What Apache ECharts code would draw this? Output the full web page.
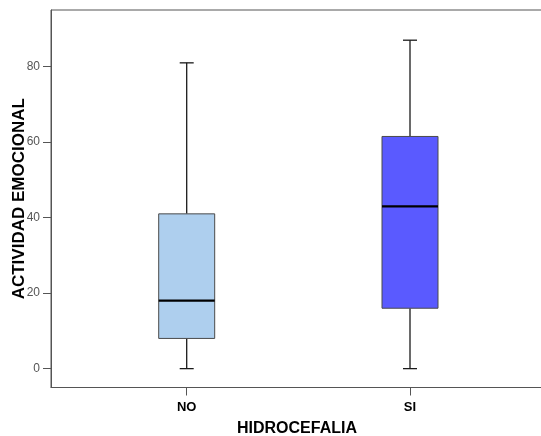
<!DOCTYPE html>
<html>
<head>
<meta charset="utf-8">
<script src="https://cdn.jsdelivr.net/npm/echarts@6/dist/echarts.min.js"></script>
<style>
  html, body { margin: 0; padding: 0; background: #fff; }
  #chart { width: 541px; height: 436px; }
</style>
</head>
<body>
<div id="chart"></div>
<script>
// Groups and five-number summaries of ACTIVIDAD EMOCIONAL by HIDROCEFALIA
const categories = ['NO', 'SI'];
const whiskerLow = [0, 0];
const quartile1 = [8, 16];
const medians = [18, 43];
const quartile3 = [41, 61.5];
const whiskerHigh = [81, 87];
const boxColors = ['#aecfee', '#5a5aff'];
const yTicks = [0, 20, 40, 60, 80];

const FONT = 'Arial, "Liberation Sans", sans-serif';

const boxData = categories.map((c, i) => [
  i, whiskerLow[i], quartile1[i], medians[i], quartile3[i], whiskerHigh[i]
]);

function renderBox(params, api) {
  const idx = api.value(0);
  const pLow = api.coord([idx, api.value(1)]);
  const pQ1 = api.coord([idx, api.value(2)]);
  const pMed = api.coord([idx, api.value(3)]);
  const pQ3 = api.coord([idx, api.value(4)]);
  const pHigh = api.coord([idx, api.value(5)]);
  const cx = pMed[0];
  const halfBox = 28;
  const halfCap = 7;
  const whiskerStyle = { stroke: '#1a1a1a', lineWidth: 1.3 };
  return {
    type: 'group',
    children: [
      { type: 'line', shape: { x1: cx, y1: pHigh[1], x2: cx, y2: pQ3[1] }, style: whiskerStyle },
      { type: 'line', shape: { x1: cx, y1: pQ1[1], x2: cx, y2: pLow[1] }, style: whiskerStyle },
      { type: 'line', shape: { x1: cx - halfCap, y1: pHigh[1], x2: cx + halfCap, y2: pHigh[1] }, style: whiskerStyle },
      { type: 'line', shape: { x1: cx - halfCap, y1: pLow[1], x2: cx + halfCap, y2: pLow[1] }, style: whiskerStyle },
      {
        type: 'rect',
        shape: { x: cx - halfBox, y: pQ3[1], width: halfBox * 2, height: pQ1[1] - pQ3[1] },
        style: { fill: boxColors[idx], stroke: '#4a4a4a', lineWidth: 1 }
      },
      { type: 'line', shape: { x1: cx - halfBox, y1: pMed[1], x2: cx + halfBox, y2: pMed[1] }, style: { stroke: '#000', lineWidth: 2.2 } }
    ]
  };
}

const chart = echarts.init(document.getElementById('chart'), null, { renderer: 'canvas' });
chart.setOption({
  animation: false,
  backgroundColor: '#fff',
  grid: {
    left: 51, right: -2, top: 10, bottom: 48.5,
    outerBoundsMode: 'none',
    containLabel: false,
    show: true, borderColor: '#555', borderWidth: 1, backgroundColor: 'transparent'
  },
  xAxis: {
    type: 'value',
    min: -0.6077,
    max: 1.5956,
    name: 'HIDROCEFALIA',
    nameLocation: 'middle',
    nameGap: 33,
    nameMoveOverlap: false,
    nameTextStyle: { fontFamily: FONT, fontSize: 16, fontWeight: 'bold', color: '#000' },
    axisLine: { show: true, onZero: false, lineStyle: { color: '#555', width: 1 } },
    axisTick: { show: true, customValues: [0, 1], length: 8, lineStyle: { color: '#555' } },
    axisLabel: {
      customValues: [0, 1],
      formatter: v => categories[Math.round(v)] || '',
      fontFamily: FONT, fontSize: 13, fontWeight: 'bold', color: '#000', margin: 13
    },
    splitLine: { show: false }
  },
  yAxis: {
    type: 'value',
    min: -5,
    max: 95,
    name: 'ACTIVIDAD EMOCIONAL',
    nameLocation: 'middle',
    nameRotate: 90,
    nameGap: 23,
    nameMoveOverlap: false,
    nameTextStyle: { fontFamily: FONT, fontSize: 17, fontWeight: 'bold', color: '#000' },
    axisLine: { show: true, onZero: false, lineStyle: { color: '#555', width: 1 } },
    axisTick: { show: true, customValues: yTicks, length: 8, lineStyle: { color: '#555' } },
    axisLabel: {
      customValues: yTicks,
      fontFamily: FONT, fontSize: 12, color: '#555', margin: 11
    },
    splitLine: { show: false }
  },
  series: [{
    type: 'custom',
    renderItem: renderBox,
    encode: { x: 0, y: [1, 2, 3, 4, 5] },
    data: boxData,
    silent: true
  }]
});
</script>
</body>
</html>
